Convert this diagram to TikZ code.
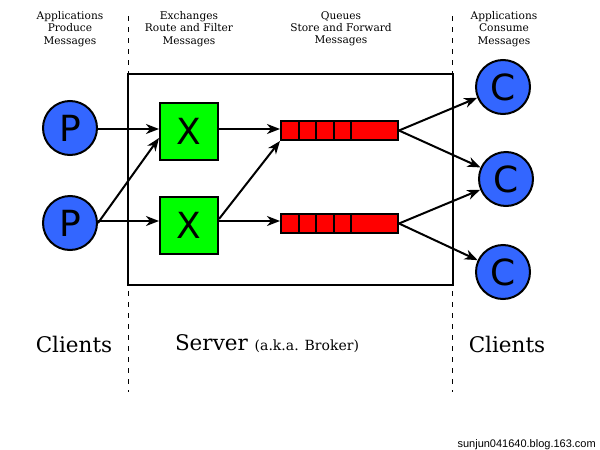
\documentclass[tikz,border=0pt]{standalone}
\usepackage{fontspec}
\setmainfont{DejaVu Serif}
\newfontfamily\letterfont{DejaVu Sans}
\newfontfamily\wmfont{Liberation Sans}
\usetikzlibrary{arrows.meta,calc}
\definecolor{pblue}{HTML}{3366FF}
\definecolor{xgreen}{HTML}{00FF00}
\definecolor{qred}{HTML}{FF0000}
\begin{document}
\begin{tikzpicture}[x=1pt,y=-1pt,
  client/.style={circle, draw=black, line width=2pt, fill=pblue, minimum size=54pt, inner sep=0pt, font=\letterfont\fontsize{36}{36}\selectfont},
  exch/.style={rectangle, draw=black, line width=2pt, fill=xgreen, minimum width=58pt, minimum height=57pt, inner sep=0pt, font=\letterfont\fontsize{36}{36}\selectfont},
  queue/.style={rectangle, draw=black, line width=2pt, fill=qred, minimum width=117pt, minimum height=19pt, inner sep=0pt},
  cellline/.style={draw=black, line width=2pt},
  conn/.style={draw=black, line width=2pt, -{Stealth[length=13pt,width=10pt,inset=4pt]}},
  divider/.style={draw=black, line width=1pt, dash pattern=on 5pt off 6pt},
  lbl/.style={align=center, inner sep=0pt, font=\fontsize{10.6}{12.2}\selectfont},
  big/.style={inner sep=0pt, font=\fontsize{21.5}{25}\selectfont},
]
\useasboundingbox (0,0) rectangle (600,450);
% server box
\node[rectangle, draw=black, line width=2pt, minimum width=325pt, minimum height=211pt, inner sep=0pt] (server) at (290.5,179.5) {};
% dashed dividers
\coordinate (d1t) at (128,16);
\coordinate (d1b) at (128,392);
\coordinate (d2t) at (452,16);
\coordinate (d2b) at (452,392);
\draw[divider] (d1t) -- (d1b);
\draw[divider] (d2t) -- (d2b);
% producers
\node[client] (p1) at (70,128) {P};
\node[client] (p2) at (70,223) {P};
% exchanges
\node[exch] (x1) at (189,131) {X};
\node[exch] (x2) at (189,225) {X};
% queues
\node[queue] (q1) at (339.5,130.5) {};
\node[queue] (q2) at (339.5,223.5) {};
\foreach \q in {q1,q2}{
  \foreach \dx in {18.5,36,53.5,71}{
    \draw[cellline] ($(\q.north west)+(\dx,0)$) -- ($(\q.south west)+(\dx,0)$);
  }
}
% consumers
\node[client] (c1) at (503,87) {C};
\node[client] (c2) at (506,179) {C};
\node[client] (c3) at (503,272) {C};
% connectors
\draw[conn] (p1.east |- 0,129) -- (x1.west |- 0,129);
\draw[conn] (p2.east) -- ($(x1.west)+(0,7)$);
\draw[conn] (p2.east |- 0,221) -- (x2.west |- 0,221);
\draw[conn] (x1.east |- 0,129) -- (q1.west |- 0,129);
\draw[conn] ($(x2.east)+(0,-6)$) -- (q1.south west);
\draw[conn] (x2.east |- 0,221) -- (q2.west |- 0,221);
\draw[conn] (q1.east) -- (c1);
\draw[conn] (q1.east) -- (c2);
\draw[conn] (q2.east) -- (c2);
\draw[conn] (q2.east) -- (c3);
% labels
\node[lbl] (t1) at (70,29) {Applications\\Produce\\Messages};
\node[lbl] (t2) at (189,29) {Exchanges\\Route and Filter\\Messages};
\node[lbl] (t3) at (341,29) {Queues\\Store and Forward\\Messages};
\node[lbl] (t4) at (504,29) {Applications\\Consume\\Messages};
\node[big] (cl1) at (74,344) {Clients};
\node[big] (srv) at (267,344) {Server {\fontsize{14}{16}\selectfont (a.k.a. Broker)}};
\node[big] (cl2) at (507,344) {Clients};
\node[inner sep=0pt, anchor=east, font=\wmfont\fontsize{11}{12}\selectfont] (wm) at (596,445) {sunjun041640.blog.163.com};
\end{tikzpicture}
\end{document}
